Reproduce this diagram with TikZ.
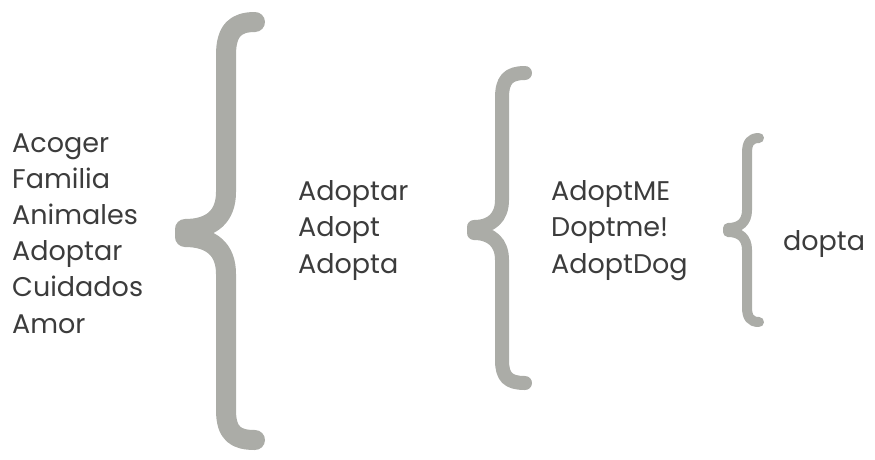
\documentclass[tikz,border=0pt]{standalone}
\usepackage{fontspec}
\setmainfont{Poppins}
\usetikzlibrary{positioning}

\definecolor{bracegrey}{HTML}{ABACA7}
\definecolor{wordgrey}{HTML}{3C3C3C}

\begin{document}
\begin{tikzpicture}
[x=1pt,y=-1pt,
 wordlist/.style = {anchor=base west, inner sep=0pt, align=left, text=wordgrey,
   font=\fontsize{27}{36.2}\selectfont},
 bracestroke/.style = {draw=bracegrey, line cap=round, line join=round},]
\useasboundingbox (0,0) rectangle (875,459);
% word lists (anchored on the baseline of the last line)
\node (words) at (12,333) [wordlist] {Acoger\\Familia\\Animales\\Adoptar\\Cuidados\\Amor};
\node (adopt) at (298,273) [wordlist] {Adoptar\\Adopt\\Adopta};
\node (adoptme) at (551,273) [wordlist] {AdoptME\\Doptme!\\AdoptDog};
\node (dopta) at (783,250) [wordlist] {dopta};
% big brace
\draw[bracestroke, line width=20pt] (255,22) .. controls (236,22) and (226,30) .. (226,55)
  -- (226,192) .. controls (226,216) and (212,229) .. (185,229) -- (185,237)
  .. controls (212,237) and (226,250) .. (226,274) -- (226,410)
  .. controls (226,434) and (236,440) .. (255,440);
% middle brace
\draw[bracestroke, line width=14pt] (525,73) .. controls (508,73) and (502,80) .. (502,98)
  -- (502,200) .. controls (502,217) and (492,227) .. (474,227) -- (474,233)
  .. controls (492,233) and (502,243) .. (502,260) -- (502,360)
  .. controls (502,377) and (508,383) .. (525,383);
% small brace
\draw[bracestroke, line width=10pt] (759,138) .. controls (750,138) and (747,143) .. (747,153)
  -- (747,210) .. controls (747,222) and (740,228) .. (728,228) -- (728,232)
  .. controls (740,232) and (747,238) .. (747,250) -- (747,307)
  .. controls (747,317) and (750,322) .. (759,322);
\end{tikzpicture}
\end{document}
